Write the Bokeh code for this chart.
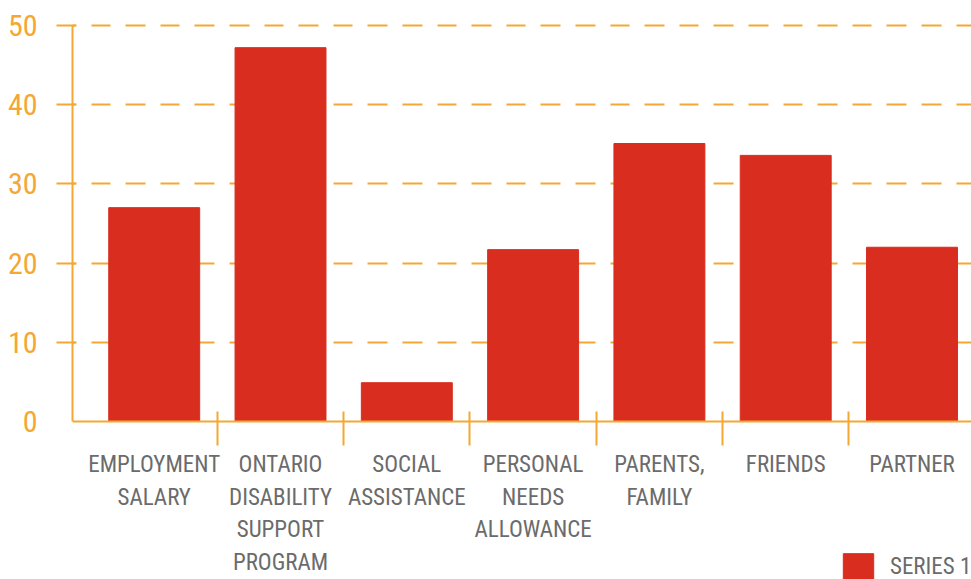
from bokeh.plotting import figure
from bokeh.models import Range1d, FixedTicker, ColumnDataSource
from bokeh.embed import file_html
from bokeh.resources import INLINE

# ---- data ----
categories = [
    "EMPLOYMENT\nSALARY",
    "ONTARIO\nDISABILITY\nSUPPORT\nPROGRAM",
    "SOCIAL\nASSISTANCE",
    "PERSONAL\nNEEDS\nALLOWANCE",
    "PARENTS,\nFAMILY",
    "FRIENDS",
    "PARTNER",
]
values = [27.0, 47.2, 4.9, 21.7, 35.1, 33.6, 22.0]
y_ticks = [0, 10, 20, 30, 40, 50]
series_name = "SERIES 1"

# ---- style ----
ORANGE = "#F4A733"
RED = "#D92D1F"
GRAY = "#6B6B6B"
FONT = "'Roboto Condensed', 'DejaVu Sans Condensed', 'Liberation Sans Narrow', Roboto, sans-serif"

xs = list(range(len(categories)))
source = ColumnDataSource(dict(x=xs, top=values))

p = figure(
    width=971, height=579,
    output_backend="svg", toolbar_location=None,
    x_range=Range1d(-0.647, 6.471),
    y_range=Range1d(-19.95, 51.515),
    min_border_left=72, min_border_right=0,
    min_border_top=13, min_border_bottom=0,
)
p.outline_line_color = None
p.background_fill_color = "white"
p.border_fill_color = "white"

# grid
p.xgrid.visible = False
p.ygrid.ticker = FixedTicker(ticks=y_ticks[1:])
p.ygrid.grid_line_color = ORANGE
p.ygrid.grid_line_width = 2
p.ygrid.grid_line_dash = "20 15 19 15 20 15 19 15 20 15"
p.ygrid.grid_line_dash_offset = 16

# bars
p.vbar(x="x", top="top", width=0.72, source=source, color=RED,
       legend_label=series_name)

# y axis
ya = p.yaxis[0]
ya.ticker = FixedTicker(ticks=y_ticks, minor_ticks=y_ticks[1:])
ya.bounds = (0, 50)
ya.axis_line_color = ORANGE
ya.axis_line_width = 2
ya.major_tick_line_color = None
ya.major_tick_out = 16
ya.major_tick_in = 0
ya.minor_tick_line_color = ORANGE
ya.minor_tick_line_width = 2
ya.minor_tick_out = 16
ya.minor_tick_in = 3
ya.major_label_text_color = ORANGE
ya.major_label_text_font = FONT
ya.major_label_text_font_size = "30px"
ya.major_label_standoff = 19

# x axis pinned at y = 0
xa = p.xaxis[0]
xa.fixed_location = 0
xa.ticker = FixedTicker(ticks=xs, minor_ticks=[i + 0.5 for i in xs[:-1]])
xa.major_label_overrides = {i: c for i, c in zip(xs, categories)}
xa.axis_line_color = ORANGE
xa.axis_line_width = 2
xa.major_tick_line_color = None
xa.major_tick_out = 0
xa.major_tick_in = 0
xa.minor_tick_line_color = ORANGE
xa.minor_tick_line_width = 2
xa.minor_tick_in = 10
xa.minor_tick_out = 24
xa.major_label_text_color = GRAY
xa.major_label_text_font = FONT
xa.major_label_text_font_size = "23px"
xa.major_label_text_line_height = 1.2
xa.major_label_standoff = 6

# legend
lg = p.legend[0]
lg.location = (767, -3)
lg.padding = 0
lg.margin = 0
lg.spacing = 0
lg.border_line_color = None
lg.background_fill_alpha = 0
lg.glyph_width = 38
lg.glyph_height = 32
lg.label_height = 32
lg.label_standoff = 13
lg.label_text_font = FONT
lg.label_text_font_size = "23px"
lg.label_text_color = GRAY

open("out.html", "w").write(file_html(p, INLINE))
